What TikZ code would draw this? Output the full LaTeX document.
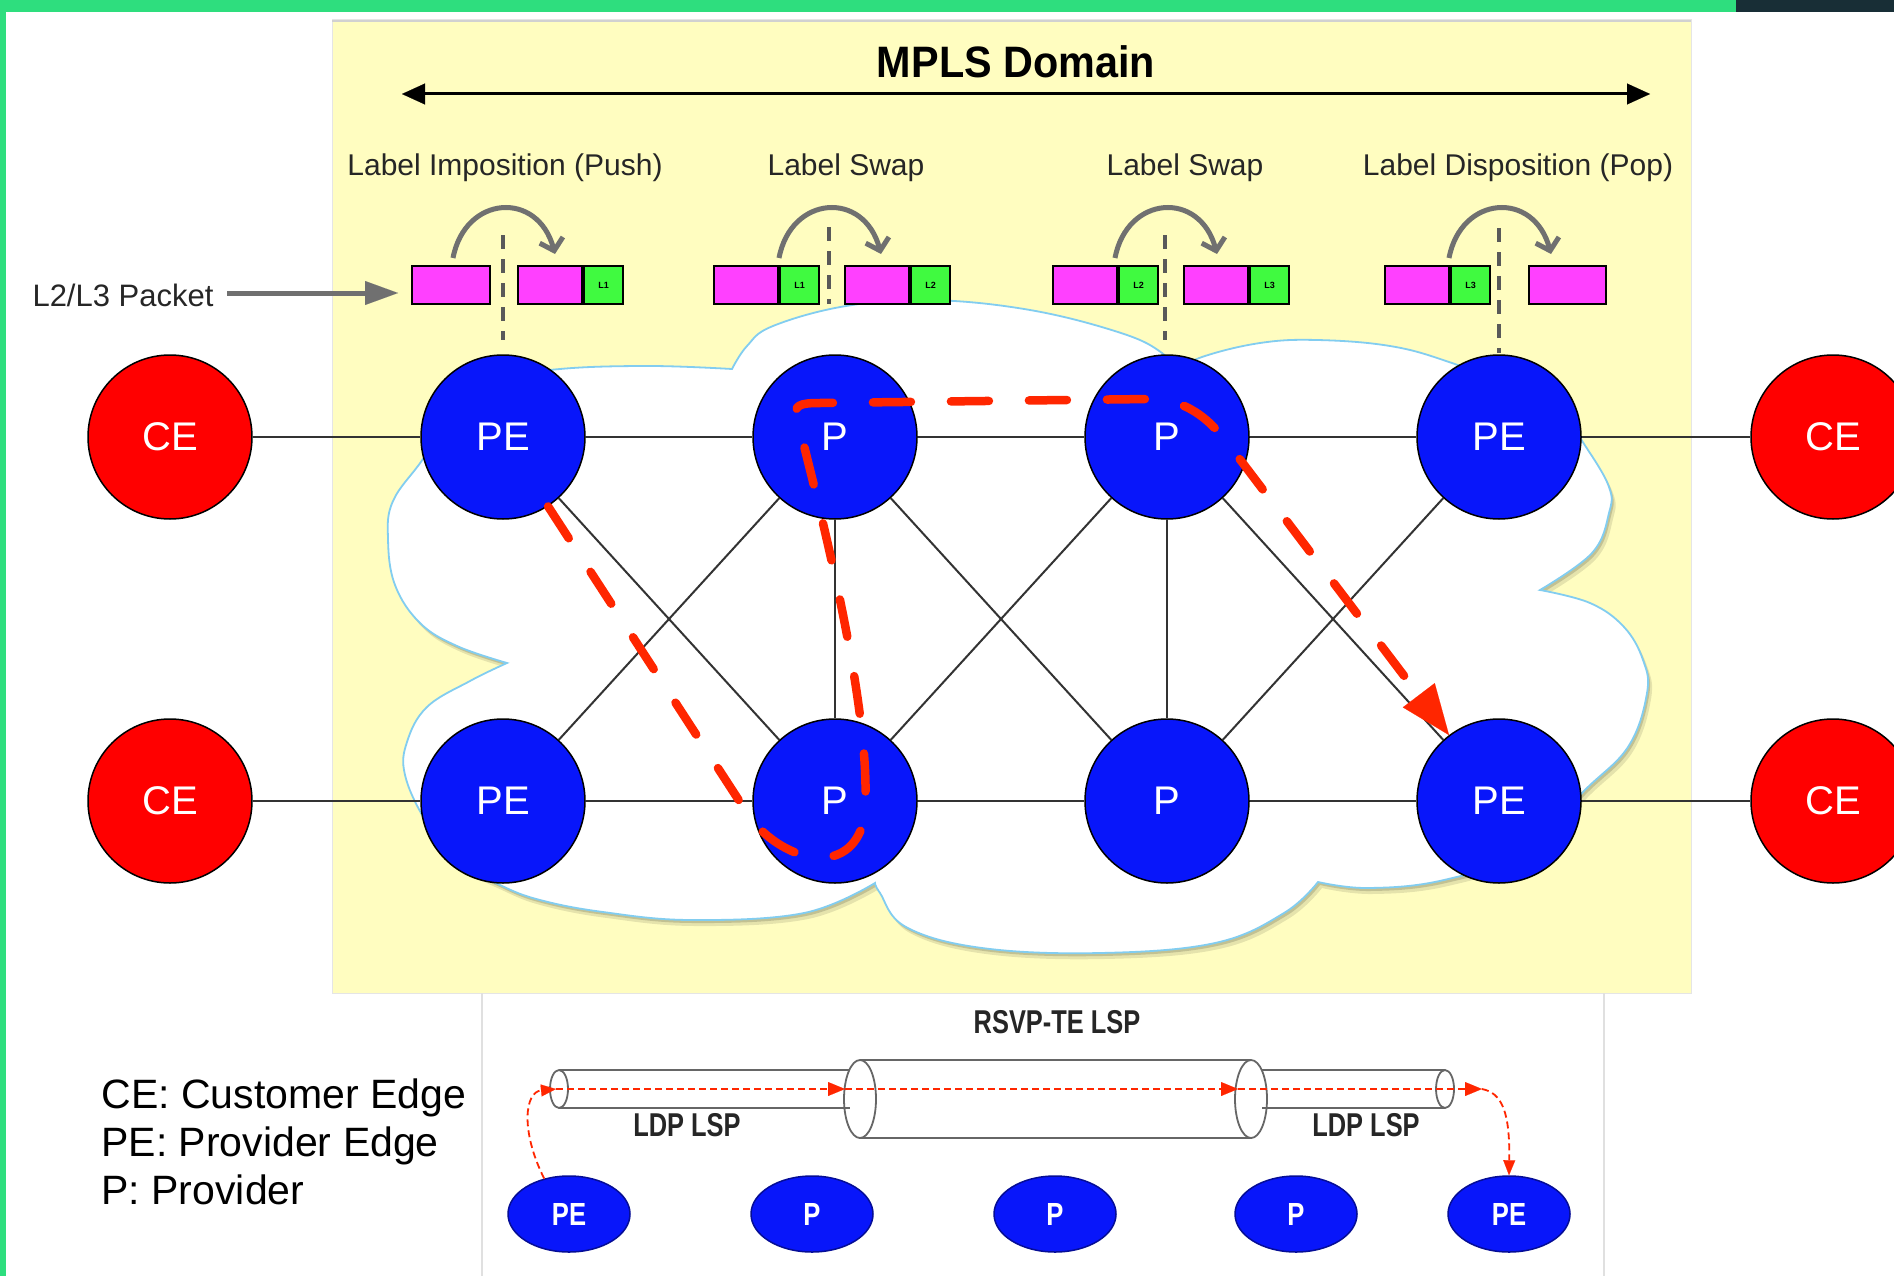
\documentclass[tikz,border=0pt]{standalone}
\usepackage{fontspec}
\setmainfont{Liberation Sans}
\usepackage{graphicx}
\usetikzlibrary{arrows.meta,shapes.geometric}
\definecolor{topgreen}{RGB}{46,222,126}
\definecolor{topdark}{RGB}{24,46,54}
\definecolor{ybg}{RGB}{255,253,192}
\definecolor{nblue}{RGB}{8,22,250}
\definecolor{cered}{RGB}{255,0,0}
\definecolor{pmag}{RGB}{255,64,255}
\definecolor{lgreen}{RGB}{64,250,64}
\definecolor{rpath}{RGB}{255,38,0}
\definecolor{cloudline}{RGB}{130,205,240}
\definecolor{arrgray}{RGB}{112,112,112}
\newcommand\myfs[1]{\fontsize{#1}{#1}\selectfont}
\newcommand\cloudpath{(507,663)
 -- plot[smooth,tension=0.65] coordinates {(507,663) (457,646) (420,623) (395,585) (388,539) (393,501) (423,459) (455,410) (500,380) (560,369) (650,366) (732,369)}
 -- plot[smooth,tension=0.65] coordinates {(732,369) (747,346) (773,326) (846,306) (930,300) (1030,310) (1121,333) (1162,353) (1175,372)}
 -- plot[smooth,tension=0.65] coordinates {(1175,372) (1202,357) (1260,343) (1317,340) (1390,346) (1449,362) (1520,390) (1565,420) (1586,447) (1609,487) (1609,513) (1592,553) (1540,590)}
 -- plot[smooth,tension=0.65] coordinates {(1540,590) (1590,603) (1624,627) (1643,660) (1647,693) (1628,747) (1582,793) (1530,850) (1444,880) (1368,888) (1318,882)}
 -- plot[smooth,tension=0.65] coordinates {(1318,882) (1284,913) (1215,943) (1100,953) (982,948) (906,927) (880,893) (875,883)}
 -- plot[smooth,tension=0.65] coordinates {(875,883) (804,913) (691,920) (603,912) (540,900) (500,885) (455,860) (425,820) (405,775) (407,742) (427,707) (470,681) (507,663)}
 -- cycle}
\pgfdeclarelayer{bglayer}
\pgfdeclarelayer{edgelayer}
\pgfsetlayers{bglayer,edgelayer,main}
\begin{document}
\begin{tikzpicture}[x=1pt,y=-1pt,
  ce/.style={circle,draw=black,line width=1.5pt,fill=cered,minimum size=164pt,inner sep=0pt,text=white,font=\myfs{40}},
  pr/.style={ce,fill=nblue},
  link/.style={draw=black!80,line width=2pt},
  mag/.style={draw=black,line width=2pt,fill=pmag,minimum height=38pt,inner sep=0pt,anchor=west},
  lab/.style={mag,fill=lgreen,minimum width=39pt,font=\bfseries\myfs{9}},
  swapar/.style={draw=arrgray,line width=5pt,-{Straight Barb[length=11pt,width=24pt]}},
  vdash/.style={draw=black!65,line width=3.5pt,dash pattern=on 14pt off 10pt},
  steplab/.style={font=\myfs{30},text=black!85,anchor=base},
  redp/.style={draw=rpath,line width=8.5pt,line cap=round,dash pattern=on 38pt off 40pt},
  bn/.style={ellipse,fill=nblue,draw=nblue!60!black,line width=1.5pt,minimum width=122pt,minimum height=76pt,inner sep=0pt,text=white,font=\bfseries\myfs{32}},
  tube/.style={draw=black!60,line width=1.8pt},
  bred/.style={draw=rpath,line width=2.5pt,dash pattern=on 7pt off 4pt},
  cond/.style={font=\bfseries\myfs{33},text=black!85,anchor=base},
  legend/.style={font=\myfs{41},anchor=base west}
]
\useasboundingbox (0,0) rectangle (1894,1276);
\begin{pgfonlayer}{bglayer}
  \fill[white] (0,0) rectangle (1894,1276);
  \fill[ybg] (332,20) rectangle (1691,993);
  \draw[black!10,line width=1pt] (332,20) rectangle (1691,993);
  \draw[black!18,line width=2pt] (332,21) -- (1691,21);
  \draw[black!12,line width=1.5pt] (482,993) -- (482,1276) (1604,993) -- (1604,1276);
  \begin{scope}[shift={(2,3)}] \fill[black,opacity=0.15] \cloudpath; \end{scope}
  \begin{scope}[shift={(4,6)}] \fill[black,opacity=0.10] \cloudpath; \end{scope}
  \filldraw[fill=white,draw=cloudline,line width=1.8pt] \cloudpath;
\end{pgfonlayer}

% title and domain arrow
\node[font=\bfseries\myfs{44},anchor=base] (title) at (1016,78) {\scalebox{0.94}[1]{MPLS Domain}};
\coordinate (dl) at (402,94);
\coordinate (dr) at (1650,94);
\draw[line width=3pt,{Triangle[length=23pt,width=21pt,line width=0.1pt]}-{Triangle[length=23pt,width=21pt,line width=0.1pt]}] (dl) -- (dr);

% step labels
\node[steplab] (s1) at (505,176) {Label Imposition (Push)};
\node[steplab] (s2) at (846,176) {Label Swap};
\node[steplab] (s3) at (1185,176) {Label Swap};
\node[steplab] (s4) at (1518,176) {Label Disposition (Pop)};

% packet label
\node[font=\myfs{31},text=black!85,anchor=base] (pkt) at (123,306) {L2/L3 Packet};
\coordinate (pa1) at (227,293);
\coordinate (pa2) at (398,293);
\draw[draw=arrgray,line width=5pt,-{Triangle[length=33pt,width=24pt,line width=0.1pt]}] (pa1) -- (pa2);

% nodes
\node[ce] (ceTL) at (170,437) {CE};
\node[pr] (peTL) at (503,437) {PE};
\node[pr] (p1T) at (835,437) {P};
\node[pr] (p2T) at (1167,437) {P};
\node[pr] (peTR) at (1499,437) {PE};
\node[ce] (ceTR) at (1833,437) {CE};
\node[ce] (ceBL) at (170,801) {CE};
\node[pr] (peBL) at (503,801) {PE};
\node[pr] (p1B) at (835,801) {P};
\node[pr] (p2B) at (1167,801) {P};
\node[pr] (peBR) at (1499,801) {PE};
\node[ce] (ceBR) at (1833,801) {CE};

\begin{pgfonlayer}{edgelayer}
  \draw[link] (ceTL) -- (peTL) -- (p1T) -- (p2T) -- (peTR) -- (ceTR);
  \draw[link] (ceBL) -- (peBL) -- (p1B) -- (p2B) -- (peBR) -- (ceBR);
  \draw[link] (peTL) -- (p1B);
  \draw[link] (peBL) -- (p1T);
  \draw[link] (p1T) -- (p1B);
  \draw[link] (p1T) -- (p2B);
  \draw[link] (p1B) -- (p2T);
  \draw[link] (p2T) -- (p2B);
  \draw[link] (p2T) -- (peBR);
  \draw[link] (p2B) -- (peTR);
\end{pgfonlayer}

% red LSP path
\draw[redp,-{Triangle[length=50pt,width=40pt,line width=0.1pt]}] (peTL) -- (751,819)
  .. controls (785,862) and (850,878) .. (864,820)
  .. controls (876,720) and (815,490) .. (797,418)
  .. controls (793,405) and (800,403) .. (820,403)
  -- (1150,399) .. controls (1185,399) and (1208,418) .. (1226,441) -- (peBR);

% dashed router markers
\coordinate (v1a) at (503,235); \coordinate (v1b) at (503,340);
\coordinate (v2a) at (829,227); \coordinate (v2b) at (829,304);
\coordinate (v3a) at (1165,235); \coordinate (v3b) at (1165,340);
\coordinate (v4a) at (1499,228); \coordinate (v4b) at (1499,353);
\draw[vdash] (v1a) -- (v1b);
\draw[vdash] (v2a) -- (v2b);
\draw[vdash] (v3a) -- (v3b);
\draw[vdash] (v4a) -- (v4b);

% packets
\node[mag,minimum width=78pt] (g1a) at (411,285) {};
\node[mag,minimum width=64pt] (g1b) at (517,285) {};
\node[lab] (g1bl) at (g1b.east) {L1};
\node[mag,minimum width=64pt] (g2a) at (713,285) {};
\node[lab] (g2al) at (g2a.east) {L1};
\node[mag,minimum width=64pt] (g2b) at (844,285) {};
\node[lab] (g2bl) at (g2b.east) {L2};
\node[mag,minimum width=64pt] (g3a) at (1052,285) {};
\node[lab] (g3al) at (g3a.east) {L2};
\node[mag,minimum width=64pt] (g3b) at (1183,285) {};
\node[lab] (g3bl) at (g3b.east) {L3};
\node[mag,minimum width=64pt] (g4a) at (1384,285) {};
\node[lab] (g4al) at (g4a.east) {L3};
\node[mag,minimum width=77pt] (g4b) at (1528,285) {};

% swap arrows
\foreach \cx [count=\i] in {503,829,1165,1499}{
  \coordinate (as\i) at (\cx-50,258);
  \coordinate (ae\i) at (\cx+52,254);
  \draw[swapar] (as\i) .. controls (\cx-38,195) and (\cx+35,190) .. (ae\i);
}

% legend
\node[legend] (leg1) at (98,1108) {CE: Customer Edge};
\node[legend] (leg2) at (98,1156) {PE: Provider Edge};
\node[legend] (leg3) at (98,1204) {P: Provider};

% RSVP-TE inset
\node[cond] (rsvp) at (1057,1033) {\scalebox{0.77}[1]{RSVP-TE LSP}};
\node[cond] (ldp1) at (687,1136) {\scalebox{0.77}[1]{LDP LSP}};
\node[cond] (ldp2) at (1366,1136) {\scalebox{0.77}[1]{LDP LSP}};

\draw[tube] (559,1070) -- (850,1070) (559,1108) -- (850,1108);
\draw[tube] (559,1089) ellipse [x radius=9, y radius=19];
\draw[tube] (860,1060) -- (1251,1060) (860,1138) -- (1251,1138);
\draw[tube] (860,1099) ellipse [x radius=16, y radius=39];
\draw[tube] (1251,1099) ellipse [x radius=16, y radius=39];
\draw[tube] (1262,1070) -- (1445,1070) (1262,1108) -- (1445,1108);
\draw[tube] (1445,1089) ellipse [x radius=9, y radius=19];

\node[bn] (bn1) at (569,1214) {\scalebox{0.8}[1]{PE}};
\node[bn] (bn2) at (812,1214) {\scalebox{0.8}[1]{P}};
\node[bn] (bn3) at (1055,1214) {\scalebox{0.8}[1]{P}};
\node[bn] (bn4) at (1296,1214) {\scalebox{0.8}[1]{P}};
\node[bn] (bn5) at (1509,1214) {\scalebox{0.8}[1]{PE}};

\coordinate (t0) at (556,1089);
\coordinate (t1) at (845,1089);
\coordinate (t2) at (1238,1089);
\coordinate (t3) at (1482,1089);
\draw[bred,line width=1.8pt,-{Triangle[length=15pt,width=12pt,line width=0.1pt]}] (bn1.125) .. controls (520,1130) and (525,1092) .. (t0);
\draw[bred,-{Triangle[length=17pt,width=14pt,line width=0.1pt]}] (t0) -- (t1);
\draw[bred,-{Triangle[length=17pt,width=14pt,line width=0.1pt]}] (t1) -- (t2);
\draw[bred,-{Triangle[length=17pt,width=14pt,line width=0.1pt]}] (t2) -- (t3);
\draw[bred,line width=1.8pt,-{Triangle[length=15pt,width=12pt,line width=0.1pt]}] (t3) .. controls (1502,1093) and (1510,1112) .. (bn5.north);

% screenshot frame
\fill[topgreen] (0,0) rectangle (1736,12);
\fill[topdark] (1736,0) rectangle (1894,12);
\fill[topgreen] (0,0) rectangle (6,1276);
\end{tikzpicture}
\end{document}
